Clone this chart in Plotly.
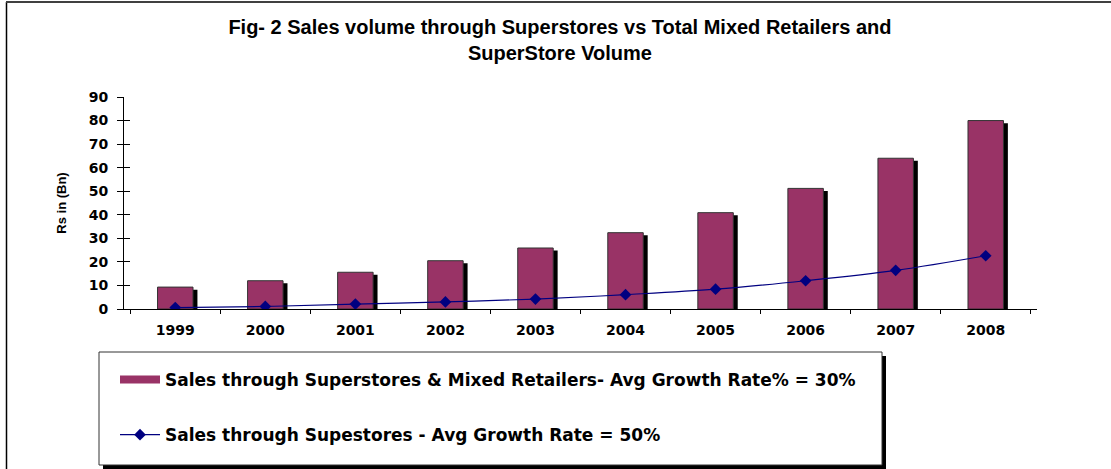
import plotly.graph_objects as go

years = ["1999", "2000", "2001", "2002", "2003", "2004", "2005", "2006", "2007", "2008"]
mixed_sales = [9.3, 12.0, 15.6, 20.5, 25.9, 32.4, 40.9, 51.2, 64.0, 80.0]
superstore_sales = [0.6, 1.1, 2.1, 3.0, 4.2, 6.1, 8.4, 12.0, 16.4, 22.6]
y_ticks = [0, 10, 20, 30, 40, 50, 60, 70, 80, 90]

bar_name = "Sales through Superstores & Mixed Retailers- Avg Growth Rate% = 30%"
line_name = "Sales through Supestores - Avg Growth Rate = 50%"
title_text = "Fig- 2 Sales volume through Superstores vs Total Mixed Retailers and<br>SuperStore Volume"

W, H = 1111, 469
L, R, T, B = 124, 74, 97, 160
pw, ph = W - L - R, H - T - B

def px(x):
    return (x - L) / pw

def py(y):
    return (H - B - y) / ph

BAR_W = 0.394
SH_DX = 0.049
SH_DY = 1.1
BAR_COLOR = "#993366"

fig = go.Figure()
# shadow bars
fig.add_trace(go.Bar(
    x=years, y=mixed_sales, base=-SH_DY, width=BAR_W, offset=-BAR_W / 2 + SH_DX,
    marker=dict(color="black", line=dict(width=0)), showlegend=False, hoverinfo="skip",
))
fig.add_trace(go.Bar(
    x=years, y=mixed_sales, width=BAR_W, offset=-BAR_W / 2, name=bar_name,
    marker=dict(color=BAR_COLOR, line=dict(color="#333333", width=1)),
    showlegend=False,
))
# legend entry for the bars (wide rectangle swatch)
fig.add_trace(go.Scatter(
    x=[None], y=[None], mode="lines", name=bar_name,
    line=dict(color=BAR_COLOR, width=8), legendgroup="a", hoverinfo="skip",
))
fig.add_trace(go.Scatter(
    x=years, y=superstore_sales, mode="lines+markers", name=line_name,
    line=dict(color="#000080", width=1.2, shape="spline"),
    marker=dict(symbol="diamond", size=9, color="#000080"),
    legendgroup="b", yaxis="y2",
))

tick_font = dict(family="DejaVu Sans", size=14, color="black", weight="bold")

fig.update_layout(
    width=W, height=H,
    margin=dict(l=L, r=R, t=T, b=B, autoexpand=False),
    paper_bgcolor="white", plot_bgcolor="white",
    barmode="overlay",
    title=dict(text=title_text, x=0.504, xanchor="center", xref="container",
               y=1 - 34 / H, yanchor="top",
               font=dict(family="Liberation Sans", size=20, color="black", weight="bold")),
    xaxis=dict(
        type="category", showline=True, linecolor="black", linewidth=1,
        ticks="outside", ticklen=4, tickcolor="black", tickson="boundaries",
        tickfont=tick_font, showgrid=False, zeroline=False, ticklabelstandoff=8,
    ),
    yaxis=dict(
        range=[0, 90], tickvals=y_ticks, showline=True, linecolor="black", linewidth=1,
        ticks="outside", ticklen=6, tickcolor="black", tickfont=tick_font,
        showgrid=False, zeroline=False, ticklabelstandoff=6,
        title=dict(text="Rs in (Bn)", standoff=19,
                   font=dict(family="Liberation Sans", size=13, color="black", weight="bold")),
    ),
    yaxis2=dict(
        range=[0, 90], tickvals=y_ticks, overlaying="y", side="left", anchor="x",
        ticks="inside", ticklen=6, tickcolor="black", showticklabels=False,
        showline=False, showgrid=False, zeroline=False,
    ),
    legend=dict(
        x=px(115), y=py(362), xanchor="left", yanchor="top",
        traceorder="grouped", tracegroupgap=30, itemwidth=40,
        bgcolor="rgba(0,0,0,0)", borderwidth=0,
        font=dict(family="DejaVu Sans", size=17, color="black", weight="bold"),
    ),
    shapes=[
        # legend box shadow
        dict(type="rect", xref="paper", yref="paper", x0=px(103), x1=px(886), y0=py(356), y1=py(469),
             fillcolor="black", line=dict(width=0), layer="below"),
        # legend box
        dict(type="rect", xref="paper", yref="paper", x0=px(99), x1=px(882), y0=py(352), y1=py(465),
             fillcolor="white", line=dict(color="#333333", width=1), layer="below"),
        # outer chart border
        dict(type="line", xref="paper", yref="paper", x0=px(6.5), x1=px(6.5), y0=py(2), y1=py(469),
             line=dict(color="black", width=1.5)),
        dict(type="line", xref="paper", yref="paper", x0=px(6), x1=px(1111), y0=py(2), y1=py(2),
             line=dict(color="#404040", width=2)),
    ],
)

fig.write_html("out.html")
